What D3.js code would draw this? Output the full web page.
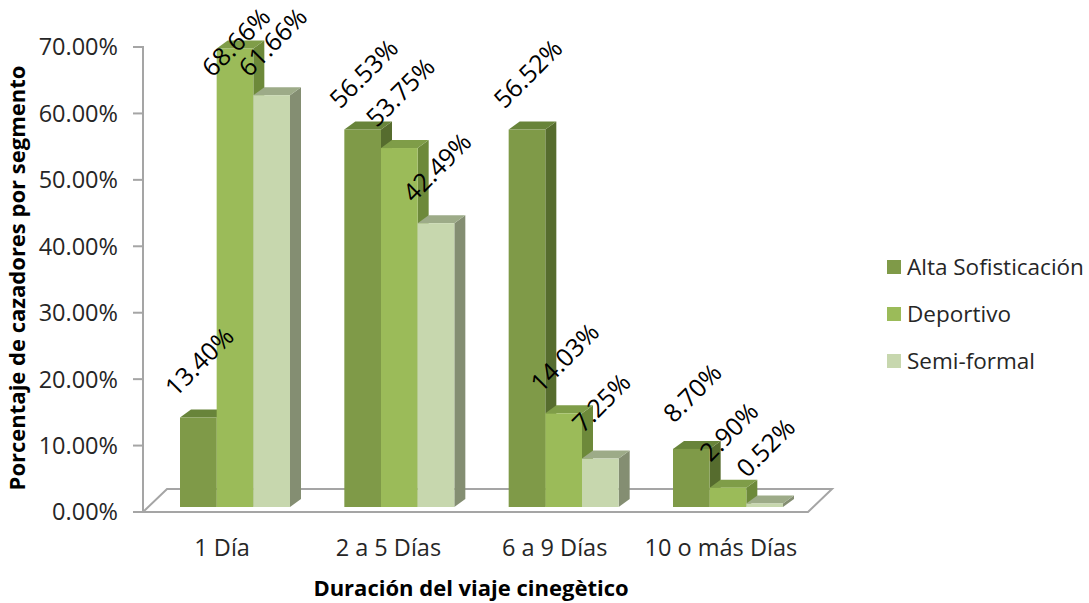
<!DOCTYPE html>
<html><head><meta charset="utf-8">
<script src="https://cdn.jsdelivr.net/npm/d3@7"></script>
<style>html,body{margin:0;padding:0;background:#fff}svg{display:block}</style>
</head><body>
<script>
const categories = ["1 Día", "2 a 5 Días", "6 a 9 Días", "10 o más Días"];
const seriesNames = ["Alta Sofisticación", "Deportivo", "Semi-formal"];
const alta = [13.40, 56.53, 56.52, 8.70];
const deportivo = [68.66, 53.75, 14.03, 2.90];
const semiformal = [61.66, 42.49, 7.25, 0.52];
const yTicks = [0, 10, 20, 30, 40, 50, 60, 70];
const yTitle = "Porcentaje de cazadores por segmento";
const xTitle = "Duración del viaje cinegètico";

const seriesValues = [alta, deportivo, semiformal];
const colors = [
  {front: "#7f9a48", top: "#68843a", side: "#566c2e"},
  {front: "#9bbb59", top: "#7f9d48", side: "#6d893a"},
  {front: "#c7d7ae", top: "#9dab88", side: "#848e72"}
];
const W = 1089, H = 603;
const FONT = "'Open Sans', 'Noto Sans', sans-serif";
const svg = d3.select("body").append("svg").attr("width", W).attr("height", H);

const yAxis = d3.scaleLinear().domain([0, 70]).range([512, 47]);
const yBar = d3.scaleLinear().domain([0, 70]).range([507, 39.5]);
const xLabel = d3.scaleBand().domain(categories).range([141, 806]);
const xGroup = d3.scalePoint().domain(categories).range([235, 728]);
const xSeries = d3.scaleBand().domain(seriesNames).range([-55, 55]);

const floorDepth = {dx: 24, dy: -23};
const barDepth = {dx: 11, dy: -8};
const axisX = 143;
const gray = "#a5a5a5";

// floor
const fl = 143, fr = 808, fy = yAxis(0);
svg.append("path")
  .attr("d", `M${fl},${fy}L${fr},${fy}L${fr + floorDepth.dx},${fy + floorDepth.dy}L${fl + floorDepth.dx},${fy + floorDepth.dy}Z`)
  .attr("fill", "#fff").attr("stroke", gray).attr("stroke-width", 2).attr("stroke-linejoin", "miter");

// y axis line + ticks
const gA = svg.append("g");
gA.append("line").attr("x1", axisX).attr("x2", axisX).attr("y1", yAxis(70) - 1).attr("y2", yAxis(0))
  .attr("stroke", gray).attr("stroke-width", 2);
gA.selectAll("line.tick").data(yTicks).join("line").attr("class", "tick")
  .attr("x1", axisX - 10).attr("x2", axisX).attr("y1", d => yAxis(d)).attr("y2", d => yAxis(d))
  .attr("stroke", gray).attr("stroke-width", 2);
gA.selectAll("text").data(yTicks).join("text")
  .attr("x", 118).attr("y", d => yAxis(d)).attr("dy", "0.36em")
  .attr("text-anchor", "end").attr("font-family", FONT).attr("font-size", 23.5).attr("fill", "#262626")
  .text(d => d3.format(".2f")(d) + "%");

// bars
const bars = [];
categories.forEach((c, ci) => {
  seriesNames.forEach((s, si) => {
    const v = seriesValues[si][ci];
    const x0 = xGroup(c) + xSeries(s);
    bars.push({c, s, si, v, x0, x1: x0 + xSeries.bandwidth(), yt: yBar(v), yb: yBar(0)});
  });
});
const gB = svg.append("g");
bars.forEach(b => {
  const g = gB.append("g");
  const {dx, dy} = barDepth;
  g.append("path").attr("d", `M${b.x1},${b.yt}L${b.x1 + dx},${b.yt + dy}L${b.x1 + dx},${b.yb + dy}L${b.x1},${b.yb}Z`)
    .attr("fill", colors[b.si].side);
  g.append("path").attr("d", `M${b.x0},${b.yt}L${b.x0 + dx},${b.yt + dy}L${b.x1 + dx},${b.yt + dy}L${b.x1},${b.yt}Z`)
    .attr("fill", colors[b.si].top);
  g.append("rect").attr("x", b.x0).attr("y", b.yt).attr("width", b.x1 - b.x0).attr("height", b.yb - b.yt)
    .attr("fill", colors[b.si].front);
});

// data labels
bars.forEach(b => {
  const cx = (b.x0 + b.x1) / 2 + 1;
  const cy = Math.max(42, b.yt - 56);
  svg.append("text")
    .attr("transform", `translate(${cx},${cy}) rotate(-45)`)
    .attr("text-anchor", "middle").attr("dy", "0.36em")
    .attr("font-family", FONT).attr("font-size", 25).attr("fill", "#000")
    .text(d3.format(".2f")(b.v) + "%");
});

// category labels
svg.selectAll("text.cat").data(categories).join("text").attr("class", "cat")
  .attr("x", d => xLabel(d) + xLabel.bandwidth() / 2 - 2).attr("y", 548).attr("dy", "0.36em")
  .attr("text-anchor", "middle").attr("font-family", FONT).attr("font-size", 23.5).attr("fill", "#262626")
  .text(d => d);

// axis titles
svg.append("text").attr("x", 471).attr("y", 588).attr("dy", "0.36em").attr("text-anchor", "middle")
  .attr("font-family", FONT).attr("font-size", 22).attr("font-weight", "bold").attr("fill", "#000")
  .text(xTitle);
svg.append("text").attr("transform", "translate(17,278) rotate(-90)").attr("dy", "0.36em").attr("text-anchor", "middle")
  .attr("font-family", FONT).attr("font-size", 22).attr("font-weight", "bold").attr("fill", "#000")
  .text(yTitle);

// legend
const lg = svg.append("g");
seriesNames.forEach((s, i) => {
  const y = 267 + i * 47;
  lg.append("rect").attr("x", 887).attr("y", y - 7).attr("width", 14).attr("height", 14).attr("fill", colors[i].front);
  lg.append("text").attr("x", 907).attr("y", y).attr("dy", "0.36em")
    .attr("font-family", FONT).attr("font-size", 22.5).attr("fill", "#262626").text(s);
});
</script>
</body></html>
